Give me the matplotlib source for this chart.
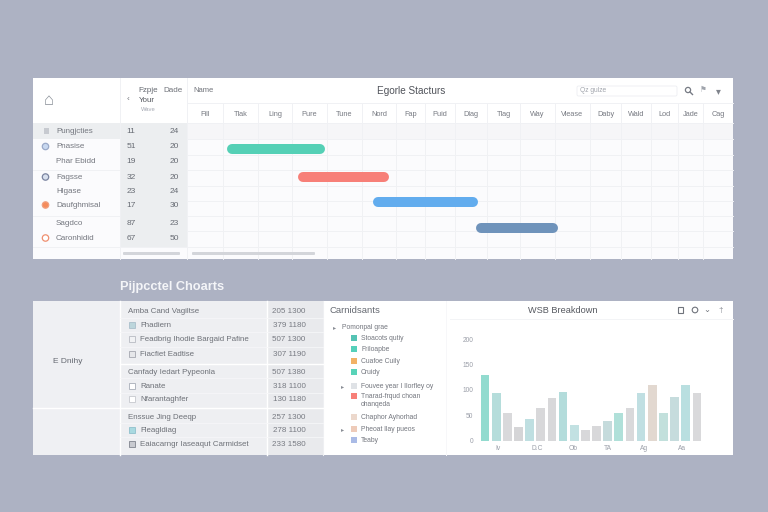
import matplotlib
matplotlib.use("Agg")
import matplotlib.pyplot as plt
from matplotlib.patches import Rectangle, Circle, FancyBboxPatch

plt.rcParams['font.family'] = ['Liberation Sans', 'DejaVu Sans']

BG = '#adb2c3'
TXT = '#6d7078'

# ---- Gantt data
month_labels = ['Fill','Tlak','Ling','Pure','Tune','Nord','Fap','Puid','Dlag','Tlag','Way','Viease','Daby','Wald','Lod','Jade','Cag']
month_edges = [187,223,258,292,327,362,396,425,455,487,520,555,590,621,651,678,703,733]
gantt_rows = [148.5,177,202,228]
gantt_start = [227,298,373,476]
gantt_end = [324,388,477,557]
gantt_colors = ['#55d0b6','#f77f78','#62acee','#6f93bb']
row_lines = [123,139,155,170,186,201,216,231,247]

task_names = ['Pungjcties','Pnasise','Phar Ebidd','Fagsse','Hlgase','Daufghmisal','Sagdco','Caronhidid']
task_y = [131,146,161,177,191,205,223,238]
task_a = ['11','51','19','32','23','17','87','67']
task_b = ['24','20','20','20','24','30','23','50']

# ---- Bottom table data
table_rows = ['Amba Cand Vagiltse','Fhadiern','Feadbrig Ihodie Bargaid Pafine','Fiacfiet Eadtise',
              'Canfady Iedart Pypeonla','Ranate','Nfarantaghfer','Enssue Jing Deeqp','Fleagldiag','Eaiacarngr Iaseaqut Carmidset']
table_y = [311,325,339,354,372,386,399,417,430,444]
table_x = [128,140,140,140,128,140,140,128,140,140]
table_vals = ['205 1300','379 1180','507 1300','307 1190','507 1380','318 1100','130 1180','257 1300','278 1100','233 1580']

# ---- Tree data
tree_rows = ['Pomonpal grae','Stoacots qutiy','Friloapbe','Cuafoe Cuily','Cruidy','Fouvee year I Ilorfley oy',
             'Tnarad-frqud choan','ohanqeda','Chaphor Ayhorhad','Pheoat llay pueos','Teaby']
tree_y = [327,338,349,361,372,386,396,404,417,429,440]
tree_x = [342,361,361,361,361,361,361,361,361,361,361]
tree_icons = [None,'#55c3b4','#55d0ba','#f2b266','#58d3b8','#dfe2e6','#f77f78',None,'#ecd8cc','#eecbb9','#aabbe6']

# ---- Bar chart data
bar_values = [129,93,54,26,42,64,84,95,30,20,29,38,54,64,93,110,54,85,109,94]
bar_colors = ['#92dbcf','#b5dddb','#d9d9db','#d5d5d7','#bfdfe1','#d8d8da','#d8d8da','#b3dcdb','#c2e1e2','#d8d8da',
              '#d8d8da','#c5dbdc','#b0e0d9','#d9d9db','#c0dfe2','#e2d8d0','#c2e0dc','#c6dcdd','#b9dfe0','#d9d9db']
bar_tick_pos = [1.2,4.7,7.9,11,14.3,17.7]
bar_tick_labels = ['Iv','D.C','Ob','TA','Ag','Aa']
y_ticks = [0,50,100,150,200]
y_labels = ['0','50','100','150','200']

W, H = 768, 512
fig = plt.figure(figsize=(7.68, 5.12), dpi=100, facecolor=BG)
ui = fig.add_axes([0, 0, 1, 1])
ui.set_xlim(0, W); ui.set_ylim(H, 0); ui.axis('off')

GRID = '#f0f1f4'

def rect(x0, y0, x1, y1, c, z=1):
    ui.add_patch(Rectangle((x0, y0), x1-x0, y1-y0, fc=c, ec='none', zorder=z))
def hl(y, x0, x1, c=GRID, lw=0.7, z=2):
    ui.plot([x0, x1], [y, y], color=c, lw=lw, zorder=z)
def vl(x, y0, y1, c=GRID, lw=0.7, z=2):
    ui.plot([x, x], [y0, y1], color=c, lw=lw, zorder=z)
def t(x, y, s, size=6, c=TXT, ha='left', **kw):
    ui.text(x, y + 0.8, s, fontsize=size, color=c, ha=ha, va='center', zorder=5, **kw)
def pill(x0, y0, x1, y1, c, ec='none', z=3, r=2):
    ui.add_patch(FancyBboxPatch((x0+r, y0+r), x1-x0-2*r, y1-y0-2*r, boxstyle=f'round,pad={r}',
                                fc=c, ec=ec, lw=0.6, zorder=z))

# ---------- top panel
rect(33, 78, 733, 259, '#fbfbfd')
rect(33, 78, 733, 123, '#ffffff', 1.1)
rect(120, 123, 187, 247, '#eceef0', 1.2)
rect(33, 123, 120, 139, '#eceef0', 1.2)
rect(187, 123, 733, 139, '#f6f6f8', 1.2)
vl(120, 78, 259); vl(187, 78, 259)
hl(103, 187, 733)
for y in row_lines:
    hl(y, 187, 733)
hl(170, 33, 120); hl(216, 33, 120); hl(247, 33, 187)
for x in month_edges[1:-1]:
    vl(x, 103, 259)
for i, lab in enumerate(month_labels):
    t((month_edges[i]+month_edges[i+1])/2, 113.5, lab, 5.3, '#777a82', 'center')

# header
t(49, 100, '\u2302', 12, '#8a9098', 'center')
t(128, 99, '\u2039', 6, '#70737a', 'center')
t(148, 90, 'Fzpje', 5.8, '#666a72', 'center')
t(147, 100, 'Your', 5.8, '#55585f', 'center')
t(148, 108.5, 'Wave', 4.2, '#a4a8b2', 'center')
t(173, 90, 'Dade', 5.8, '#70737a', 'center')
t(193, 90, 'Name', 5.5, '#70737a')
t(411, 90, 'Egorle Stacturs', 7.2, '#50535a', 'center')
pill(577, 86, 677, 96, '#ffffff', '#eceef2', r=1.5)
t(580, 90, 'Qz gulze', 4.8, '#a0a4ac')
ui.add_patch(Circle((688, 90), 2.6, fc='none', ec='#777b84', lw=0.9, zorder=5))
ui.plot([690, 692.5], [92, 94.5], color='#777b84', lw=1, zorder=5)
t(703, 90, '\u2691', 5.5, '#a0a4ac', 'center')
t(718, 90, '\u25be', 7, '#80848c', 'center')

# left rows
for i, (n, y, a, b) in enumerate(zip(task_names, task_y, task_a, task_b)):
    t(56, y, n, 5.8, '#74777f')
    t(131, y, a, 6, '#686c74', 'center')
    t(174, y, b, 6, '#686c74', 'center')
ui.add_patch(Rectangle((43.5, 128), 5, 6, fc='#c7cad0', ec='none', zorder=5))
for y, fc, ec in [(146.5,'#c8d8f0','#9aa9c8'), (177,'#d8e0ee','#7b84a0'), (205,'#f58c5c','#f0a080'), (238,'#ffffff','#ef8f70')]:
    ui.add_patch(Circle((45.5, y), 3.2, fc=fc, ec=ec, lw=0.9, zorder=5))

# scrollbars
pill(123, 252, 180, 255, '#d3d5da', r=1)
pill(192, 252, 315, 255, '#d3d5da', r=1)

# Gantt bars
g = fig.add_axes([187/W, 1-259/H, (733-187)/W, (259-123)/H])
g.set_xlim(187, 733); g.set_ylim(259, 123); g.axis('off'); g.patch.set_alpha(0)
g.hlines(gantt_rows, gantt_start, gantt_end, colors=gantt_colors, lw=7.2, zorder=4)
g.collections[0].set_capstyle('round')
g.collections[0].set_segments([[(s+4.5, y), (e-4.5, y)] for s, e, y in zip(gantt_start, gantt_end, gantt_rows)])

# ---------- bottom title
t(120, 286, 'Pijpcctel Choarts', 9.2, '#f4f5f8', fontweight='bold')

# ---------- bottom panel
rect(33, 301, 733, 455, '#ffffff')
rect(33, 301, 120, 455, '#eff0f3', 1.2)
rect(120, 301, 267, 455, '#eeeff2', 1.2)
rect(267, 301, 323, 455, '#e9eaed', 1.2)
vl(120, 301, 455, '#ffffff', 1); vl(267, 301, 455, '#ffffff', 1); vl(323, 301, 455, '#eeeff2', 0.8)
hl(407.5, 33, 323, '#ffffff', 1)
hl(363.5, 120, 323, '#ffffff', 1)
for y in [318, 332, 347, 378, 393, 423, 437]:
    hl(y, 120, 323, '#f6f6f8', 0.6)
t(68, 361, 'E Dnihy', 6, '#666a72', 'center')
for n, y, x, v in zip(table_rows, table_y, table_x, table_vals):
    t(x, y, n, 5.7, '#6e7178')
    t(289, y, v, 5.8, '#777a82', 'center')
for y, fc, ec in [(325,'#bcd6dc','#aabfcb'), (339,'#f1f2f4','#b8bbc2'), (354,'#e6e7ea','#a4a7b0'),
                  (386,'#ffffff','#a8adb8'), (399,'#ffffff','#c5c8ce'), (430,'#a9d9e0','#8fc0cc'), (444,'#c8cad0','#80848e')]:
    ui.add_patch(Rectangle((129, y-3), 5.5, 6, fc=fc, ec=ec, lw=0.6, zorder=5))

# ---------- tree panel
t(330, 310, 'Carnidsants', 6.8, '#666a72')
for n, y, x, ic in zip(tree_rows, tree_y, tree_x, tree_icons):
    t(x, y, n, 4.9, '#73767e')
    if ic:
        ui.add_patch(Rectangle((351, y-3), 6, 6, fc=ic, ec='none', zorder=5))
t(335, 327, '\u25b8', 4.5, '#8a8e96', 'center')
t(343, 386, '\u25b8', 4.5, '#8a8e96', 'center')
t(343, 429, '\u25b8', 4.5, '#8a8e96', 'center')
hl(318.5, 450, 733, '#f3f4f6', 0.7)
vl(446, 301, 455, '#f7f7f9', 0.7)

# ---------- chart header
t(563, 309.5, 'WSB Breakdown', 6.6, '#55585f', 'center')
ui.add_patch(Rectangle((678, 307), 5, 6, fc='none', ec='#70747c', lw=0.8, zorder=5))
ui.add_patch(Circle((695, 310), 2.8, fc='none', ec='#70747c', lw=0.8, zorder=5))
t(707, 310, '\u2304', 6, '#70747c', 'center')
t(721, 309.5, '\u2020', 6, '#8a8e96', 'center')

# ---------- bar chart
b = fig.add_axes([478/W, 1-440.5/H, (708-478)/W, (440.5-339)/H])
b.patch.set_alpha(0)
xs = list(range(len(bar_values)))
b.bar(xs, bar_values, width=0.78, color=bar_colors, zorder=3)
b.set_xlim(-0.63, 20.0)
b.set_ylim(0, 200)
b.set_yticks(y_ticks, y_labels)
b.set_xticks(bar_tick_pos, bar_tick_labels)
b.tick_params(axis='both', length=0, labelsize=4.8, labelcolor='#9a9ea8')
b.tick_params(axis='x', pad=3.5)
b.tick_params(axis='y', pad=3.5)
for s in b.spines.values():
    s.set_visible(False)

fig.savefig('out.png', dpi=100, facecolor=BG)
